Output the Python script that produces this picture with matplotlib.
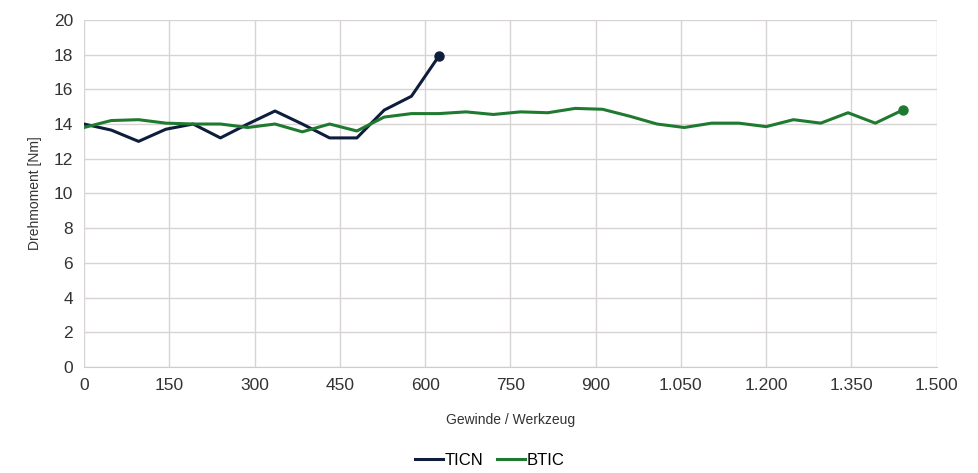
import matplotlib
matplotlib.use("Agg")
import matplotlib.pyplot as plt
from matplotlib.ticker import FuncFormatter

plt.rcParams['font.family'] = ['Liberation Sans', 'DejaVu Sans']

# Gewinde / Werkzeug
ticn_x = [0, 48, 96, 144, 192, 240, 288, 336, 384, 432, 480, 528, 576, 624]
ticn_y = [14.0, 13.65, 13.0, 13.7, 14.0, 13.2, 14.0, 14.75, 14.0, 13.2, 13.2, 14.8, 15.6, 17.9]

btic_x = [0, 48, 96, 144, 192, 240, 288, 336, 384, 432, 480, 528, 576, 624, 672,
          720, 768, 816, 864, 912, 960, 1008, 1056, 1104, 1152, 1200, 1248, 1296,
          1344, 1392, 1440]
btic_y = [13.8, 14.2, 14.25, 14.05, 14.0, 14.0, 13.8, 14.0, 13.55, 14.0, 13.6, 14.4,
          14.6, 14.6, 14.7, 14.55, 14.7, 14.65, 14.9, 14.85, 14.45, 14.0, 13.8, 14.05,
          14.05, 13.85, 14.25, 14.05, 14.65, 14.05, 14.8]

xticks = list(range(0, 1501, 150))
yticks = list(range(0, 21, 2))

c_ticn = '#0f1d3d'
c_btic = '#1f7a30'

fig = plt.figure(figsize=(9.79, 4.73), dpi=100)
ax = fig.add_axes([0.0858, 0.224, 0.871, 0.734])

ax.plot(ticn_x, ticn_y, color=c_ticn, lw=2.2, label='TICN', solid_joinstyle='round')
ax.plot(ticn_x[-1:], ticn_y[-1:], 'o', color=c_ticn, ms=6.5)
ax.plot(btic_x, btic_y, color=c_btic, lw=2.2, label='BTIC', solid_joinstyle='round')
ax.plot(btic_x[-1:], btic_y[-1:], 'o', color=c_btic, ms=6.5)

ax.set_xlim(0, 1500)
ax.set_ylim(0, 20)
ax.set_xticks(xticks)
ax.set_yticks(yticks)
ax.xaxis.set_major_formatter(FuncFormatter(lambda v, p: f"{int(v):,}".replace(',', '.')))
ax.grid(True, color='#d9d4d4', lw=1)
ax.set_axisbelow(True)
for s in ['top', 'right', 'left']:
    ax.spines[s].set_visible(False)
ax.spines['bottom'].set_color('#d0cccc')
ax.tick_params(length=0, labelsize=12.5, colors='#333333', pad=8)

ax.set_xlabel('Gewinde / Werkzeug', fontsize=10, color='#333333', labelpad=14)
ax.set_ylabel('Drehmoment [Nm]', fontsize=10, color='#333333', labelpad=8)

handles, labels = ax.get_legend_handles_labels()
fig.legend(handles, labels, loc='center', bbox_to_anchor=(0.5, 0.026), ncol=2,
           frameon=False, fontsize=12, handlelength=1.7, handletextpad=0.1,
           columnspacing=0.8, borderaxespad=0, borderpad=0)

fig.savefig('out.png', dpi=100)
